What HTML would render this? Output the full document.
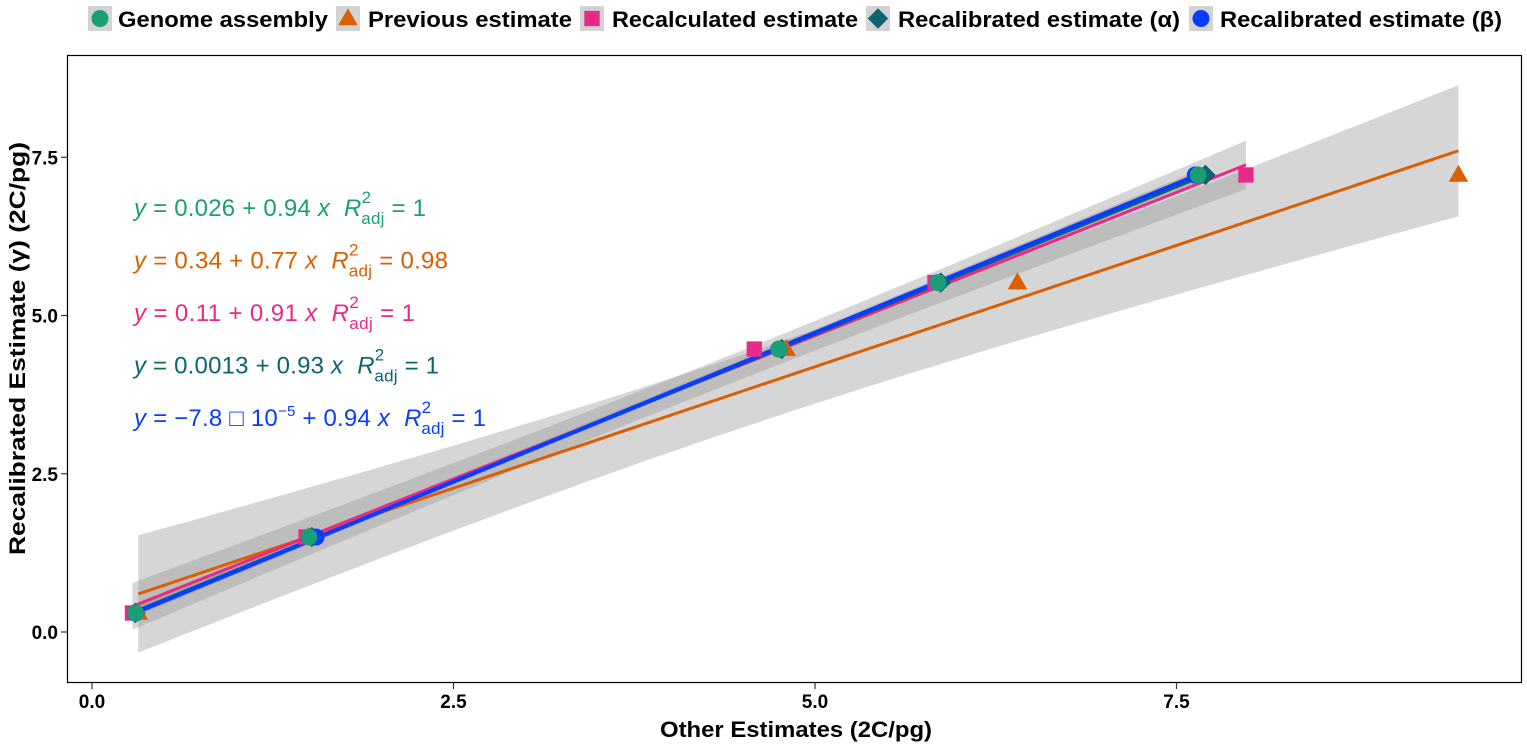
<!DOCTYPE html>
<html><head><meta charset="utf-8"><style>
body{margin:0;background:#fff;font-family:"Liberation Sans",sans-serif}
svg text{font-family:"Liberation Sans",sans-serif}
</style></head><body>
<svg id="c" width="1527" height="744">
</svg>
<script>
const seriesNames=["Genome assembly","Previous estimate","Recalculated estimate","Recalibrated estimate (α)","Recalibrated estimate (β)"];
const yGamma=[0.3,1.5,4.47,5.52,7.22];
const xGenome=[0.3,1.5,4.75,5.85,7.65];
const xPrevious=[0.32,1.5,4.8,6.4,9.45];
const xRecalc=[0.28,1.48,4.58,5.83,7.98];
const xAlpha=[0.3,1.52,4.77,5.87,7.7];
const xBeta=[0.3,1.55,4.75,5.85,7.63];
const xTicks=[0,2.5,5,7.5];
const yTicks=[0,2.5,5,7.5];
const xTickLabels=["0.0","2.5","5.0","7.5"];
const yTickLabels=["0.0","2.5","5.0","7.5"];
const eqLabels=[
 ['0.026','0.94','1'],['0.34','0.77','0.98'],['0.11','0.91','1'],['0.0013','0.93','1'],['−7.8 □ 10','0.94','1']];
const eqWidths=[292,314,281,305,352];
const colors=["#1b9e77","#d95f02","#e7298a","#0b6470","#0a3cff"];
const xs=[xGenome,xPrevious,xRecalc,xAlpha,xBeta];
const shapes=["circle","triangle","square","diamond","circle"];
const NS="http://www.w3.org/2000/svg";
const svg=document.getElementById('c');
const X=v=>92+v*144.6, Y=v=>632-v*63.3;
function mk(t,a,p){const e=document.createElementNS(NS,t);for(const k in a)e.setAttribute(k,a[k]);(p||svg).appendChild(e);return e;}
const panel=mk('rect',{x:67.5,y:55.5,width:1454,height:627,fill:'#fff',stroke:'#000','stroke-width':1.2});


xTicks.forEach((t,i)=>{
 const l=mk('line',{x1:X(t),x2:X(t),y1:683,y2:689,stroke:'#333','stroke-width':1.2});
 
 
 const tx=mk('text',{x:X(t),y:708,'text-anchor':'middle','font-size':19,'font-weight':'bold'});
 tx.textContent=xTickLabels[i];
 
 
});
yTicks.forEach((t,i)=>{
 const l=mk('line',{x1:61,x2:67,y1:Y(t),y2:Y(t),stroke:'#333','stroke-width':1.2});
 
 
 const tx=mk('text',{x:58,y:Y(t)+7,'text-anchor':'end','font-size':19,'font-weight':'bold'});
 tx.textContent=yTickLabels[i];
 
 
});
const xt=mk('text',{x:660,y:737,'font-size':22,'font-weight':'bold',textLength:272,lengthAdjust:'spacingAndGlyphs'});
xt.textContent='Other Estimates (2C/pg)';


const yt=mk('text',{x:0,y:0,'font-size':22,'font-weight':'bold',transform:'translate(25,555) rotate(-90)',textLength:413,lengthAdjust:'spacingAndGlyphs'});
yt.textContent='Recalibrated Estimate (γ) (2C/pg)';


function lm(x,y){const n=x.length,mx=x.reduce((a,b)=>a+b)/n,my=y.reduce((a,b)=>a+b)/n;let sxx=0,sxy=0;for(let i=0;i<n;i++){sxx+=(x[i]-mx)**2;sxy+=(x[i]-mx)*(y[i]-my);}const b=sxy/sxx,a=my-b*mx;let sse=0;for(let i=0;i<n;i++)sse+=(y[i]-a-b*x[i])**2;return {a,b,mx,sxx,n,s:Math.sqrt(sse/(n-2))};}
const tq=3.182;
const fits=xs.map(x=>lm(x,yGamma));
fits.forEach((f,k)=>{const x=xs[k];const lo=Math.min(...x),hi=Math.max(...x);let up=[],dn=[];
 for(let i=0;i<=80;i++){const v=lo+(hi-lo)*i/80;const se=f.s*Math.sqrt(1/f.n+(v-f.mx)**2/f.sxx);const m=f.a+f.b*v;up.push(X(v)+','+Y(m+tq*se));dn.unshift(X(v)+','+Y(m-tq*se));}
 const r=mk('polygon',{points:up.concat(dn).join(' '),fill:'#999','fill-opacity':0.4});
 
 
});
fits.forEach((f,k)=>{const x=xs[k];const lo=Math.min(...x),hi=Math.max(...x);
 const l=mk('line',{x1:X(lo),y1:Y(f.a+f.b*lo),x2:X(hi),y2:Y(f.a+f.b*hi),stroke:colors[k],'stroke-width':k==4?4:3});
 
 
});
function shape(s,cx,cy,c,r,p){let e;
 if(s=='circle')e=mk('circle',{cx,cy,r,fill:c},p);
 else if(s=='triangle')e=mk('polygon',{points:`${cx},${cy-r*1.2} ${cx-r*1.15},${cy+r*0.8} ${cx+r*1.15},${cy+r*0.8}`,fill:c},p);
 else if(s=='square')e=mk('rect',{x:cx-r*0.9,y:cy-r*0.9,width:r*1.8,height:r*1.8,fill:c},p);
 else e=mk('polygon',{points:`${cx},${cy-r*1.2} ${cx+r*1.2},${cy} ${cx},${cy+r*1.2} ${cx-r*1.2},${cy}`,fill:c},p);
 return e;}
[3,1,2,4,0].forEach(k=>{xs[k].forEach((v,i)=>{const e=shape(shapes[k],X(v),Y(yGamma[i]),colors[k],8.5);
 
 });});
eqLabels.forEach((q,k)=>{const y0=216+k*52.5;
 const t=mk('text',{x:134,y:y0,'font-size':24,fill:colors[k],textLength:eqWidths[k],lengthAdjust:'spacing'});
 
 
 let h=`<tspan font-style="italic">y</tspan> = ${q[0]}`;
 if(k==4)h+=`<tspan dy="-10" font-size="15">−5</tspan><tspan dy="10"> + ${q[1]} </tspan>`;else h+=` + ${q[1]} `;
 h+=`<tspan font-style="italic">x</tspan><tspan dx="14" font-style="italic">R</tspan><tspan dy="-13" font-size="17">2</tspan><tspan dx="-10" dy="21" font-size="17">adj</tspan><tspan dy="-8"> = ${q[2]}</tspan>`;
 t.innerHTML=h;});
const lg=[[88,118,210],[336,368,204],[580,612,246],[866,898,282],[1189,1220,282]];
seriesNames.forEach((n,k)=>{const g=mk('g',{});
 
 
 mk('rect',{x:lg[k][0],y:6,width:24,height:25,fill:'#d3d3d3'},g);
 shape(shapes[k],lg[k][0]+12,18.5,colors[k],8.5,g);
 const t=mk('text',{x:lg[k][1],y:27,'font-size':22,'font-weight':'bold',textLength:lg[k][2],lengthAdjust:'spacingAndGlyphs'},g);t.textContent=n;});
</script>
</body></html>
